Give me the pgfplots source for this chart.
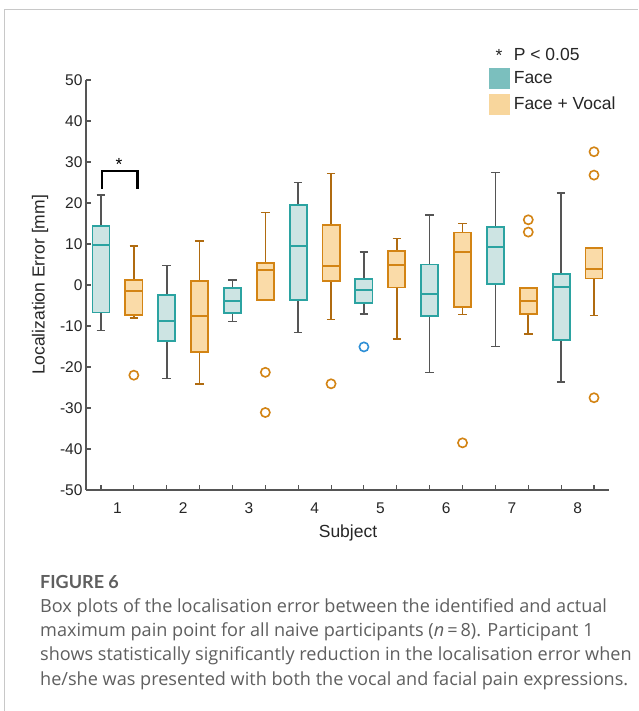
\documentclass[border=0pt]{standalone}
\usepackage{fontspec}
\setmainfont{Liberation Sans}
\newfontfamily\capfont{Open Sans}
\newfontfamily\capboldfont{Lato}
\usepackage{pgfplots}
\pgfplotsset{compat=1.18}
\usepgfplotslibrary{statistics}
\definecolor{facefill}{HTML}{CDE4E3}
\definecolor{faceedge}{HTML}{2BA3A1}
\definecolor{facewhisk}{HTML}{555555}
\definecolor{vocalfill}{HTML}{FADBA8}
\definecolor{vocaledge}{HTML}{D38414}
\definecolor{vocalwhisk}{HTML}{B06B10}
\definecolor{facelegend}{HTML}{7BBFBE}
\definecolor{vocallegend}{HTML}{F8D69C}
\definecolor{outblue}{HTML}{2E8FD6}
\definecolor{axisgray}{HTML}{555555}
\definecolor{capgray}{HTML}{5F5F5F}
\definecolor{framegray}{HTML}{C8C8C8}
\pgfplotsset{
  faceB/.style={
    line width=1.8pt,
    boxplot/draw direction=y,
    boxplot/box extend=0.52,
    boxplot/whisker extend=0.26,
    boxplot/every box/.style={draw=faceedge, fill=facefill, line width=1.8pt},
    boxplot/every median/.style={draw=faceedge, line width=2pt},
    boxplot/every whisker/.style={draw=facewhisk, line width=1.6pt},
    mark=o, mark size=4.6pt, mark options={draw=outblue, line width=1.6pt, solid}},
  vocalB/.style={
    line width=1.8pt,
    boxplot/draw direction=y,
    boxplot/box extend=0.52,
    boxplot/whisker extend=0.26,
    boxplot/every box/.style={draw=vocaledge, fill=vocalfill, line width=1.8pt},
    boxplot/every median/.style={draw=vocaledge, line width=2pt},
    boxplot/every whisker/.style={draw=vocalwhisk, line width=1.6pt},
    mark=o, mark size=4.6pt, mark options={draw=vocaledge, line width=1.6pt, solid}},
}
\begin{document}
\begin{tikzpicture}[x=1pt,y=1pt]
\useasboundingbox (0,0) rectangle (638,711);
\fill[white] (0,0) rectangle (638,711);
\draw[framegray, line width=1pt] (4,0) -- (4,701) -- (638,701);
\begin{axis}[
  at={(86pt,221pt)}, anchor=south west,
  scale only axis, width=523pt, height=410pt,
  xmin=0.544, xmax=16.456, ymin=-50, ymax=50,
  axis x line*=bottom, axis y line*=left,
  axis line style={draw=axisgray, line width=1.3pt},
  xtick={1.5,3.5,5.5,7.5,9.5,11.5,13.5,15.5},
  xticklabels={1,2,3,4,5,6,7,8},
  major x tick style={draw=none},
  minor xtick={1,2,...,16},
  ytick={-50,-40,...,50},
  tick align=inside,
  major tick length=5pt, minor tick length=5pt,
  tick style={draw=axisgray, line width=1.1pt},
  /pgf/number format/assume math mode=true,
  ticklabel style={font=\fontsize{15.5}{18}\selectfont, text=black!85},
  xticklabel style={yshift=-9pt},
  label style={font=\fontsize{17.5}{20}\selectfont, text=black!85},
  ylabel={Localization Error [mm]},
  xlabel={Subject},
  ylabel style={at={(axis description cs:-0.088,0.5)}, anchor=center},
  xlabel style={at={(axis description cs:0.501,-0.104)}, anchor=center},
  clip=false,
  legend style={draw=none, fill=none, at={(axis description cs:0.770,1.079)}, anchor=north west,
    font=\fontsize{17.5}{20}\selectfont, text=black!85, row sep=5pt, column sep=2pt, inner sep=0pt,
    nodes={inner xsep=2.5pt, inner ysep=0pt}},
  legend cell align=left,
]
\addlegendimage{legend image code/.code={\node[anchor=center, inner sep=0pt] at (10pt,-2pt) {\fontsize{17.5}{20}\selectfont *};}}
\addlegendentry{P < 0.05}
\addlegendimage{legend image code/.code={\fill[facelegend] (0pt,-10pt) rectangle (20pt,10pt);}}
\addlegendentry{Face}
\addlegendimage{legend image code/.code={\fill[vocallegend] (0pt,-10pt) rectangle (20pt,10pt);}}
\addlegendentry{Face + Vocal}

% Subject 1
\addplot[faceB, forget plot, boxplot prepared={draw position=1, lower whisker=-11.1, lower quartile=-6.7, median=9.85, upper quartile=14.4, upper whisker=21.9}] coordinates {};
\addplot[vocalB, forget plot, boxplot prepared={draw position=2, lower whisker=-8.1, lower quartile=-7.3, median=-1.4, upper quartile=1.3, upper whisker=9.5}] coordinates {(0,-22.0)};
% Subject 2
\addplot[faceB, forget plot, boxplot prepared={draw position=3, lower whisker=-22.8, lower quartile=-13.7, median=-8.8, upper quartile=-2.5, upper whisker=4.8}] coordinates {};
\addplot[vocalB, forget plot, boxplot prepared={draw position=4, lower whisker=-24.2, lower quartile=-16.4, median=-7.6, upper quartile=0.9, upper whisker=10.7}] coordinates {};
% Subject 3
\addplot[faceB, forget plot, boxplot prepared={draw position=5, lower whisker=-8.9, lower quartile=-6.9, median=-3.8, upper quartile=-0.8, upper whisker=1.15}] coordinates {};
\addplot[vocalB, forget plot, boxplot prepared={draw position=6, lower whisker=-3.7, lower quartile=-3.7, median=3.6, upper quartile=5.4, upper whisker=17.7}] coordinates {(0,-21.3) (0,-31.1)};
% Subject 4
\addplot[faceB, forget plot, boxplot prepared={draw position=7, lower whisker=-11.6, lower quartile=-3.7, median=9.5, upper quartile=19.6, upper whisker=25.0}] coordinates {};
\addplot[vocalB, forget plot, boxplot prepared={draw position=8, lower whisker=-8.4, lower quartile=1.0, median=4.6, upper quartile=14.6, upper whisker=27.2}] coordinates {(0,-24.1)};
% Subject 5
\addplot[faceB, forget plot, boxplot prepared={draw position=9, lower whisker=-7.1, lower quartile=-4.3, median=-1.2, upper quartile=1.4, upper whisker=8.1}] coordinates {(0,-15.1)};
\addplot[vocalB, forget plot, boxplot prepared={draw position=10, lower whisker=-13.1, lower quartile=-0.6, median=4.9, upper quartile=8.2, upper whisker=11.3}] coordinates {};
% Subject 6
\addplot[faceB, forget plot, boxplot prepared={draw position=11, lower whisker=-21.3, lower quartile=-7.6, median=-2.3, upper quartile=5.0, upper whisker=17.0}] coordinates {};
\addplot[vocalB, forget plot, boxplot prepared={draw position=12, lower whisker=-7.2, lower quartile=-5.4, median=8.0, upper quartile=12.8, upper whisker=15.0}] coordinates {(0,-38.5)};
% Subject 7
\addplot[faceB, forget plot, boxplot prepared={draw position=13, lower whisker=-15.0, lower quartile=0.3, median=9.2, upper quartile=14.2, upper whisker=27.4}] coordinates {};
\addplot[vocalB, forget plot, boxplot prepared={draw position=14, lower whisker=-11.9, lower quartile=-7.1, median=-4.0, upper quartile=-0.7, upper whisker=-0.7}] coordinates {(0,15.9) (0,12.9)};
% Subject 8
\addplot[faceB, forget plot, boxplot prepared={draw position=15, lower whisker=-23.6, lower quartile=-13.5, median=-0.4, upper quartile=2.6, upper whisker=22.4}] coordinates {};
\addplot[vocalB, forget plot, boxplot prepared={draw position=16, lower whisker=-7.4, lower quartile=1.6, median=3.8, upper quartile=9.1, upper whisker=9.1}] coordinates {(0,32.5) (0,26.8) (0,-27.5)};

% significance bracket
\draw[black, line width=2.8pt] (axis cs:1.03,23.5) -- (axis cs:1.03,27.8) -- (axis cs:2.1,27.8) -- (axis cs:2.1,23.5);
\node[font=\fontsize{17.5}{20}\selectfont, inner sep=0pt] at (axis cs:1.55,29.5) {*};
\end{axis}
\node[anchor=base west, inner sep=0pt, text=capgray, font={\capboldfont\fontsize{18}{22}\selectfont\bfseries}] at (40,122) {FIGURE 6};
\begin{scope}[every node/.style={anchor=base west, inner sep=0pt, text=capgray, font={\capfont\fontsize{18.1}{22}\selectfont}}]
\node at (40,98) {Box plots of the localisation error between the identified and actual};
\node at (40,74) {maximum pain point for all naive participants (\textit{n}\,=\,8). Participant 1};
\node at (40,50) {shows statistically significantly reduction in the localisation error when};
\node at (40,25.5) {he/she was presented with both the vocal and facial pain expressions.};
\end{scope}
\end{tikzpicture}
\end{document}
